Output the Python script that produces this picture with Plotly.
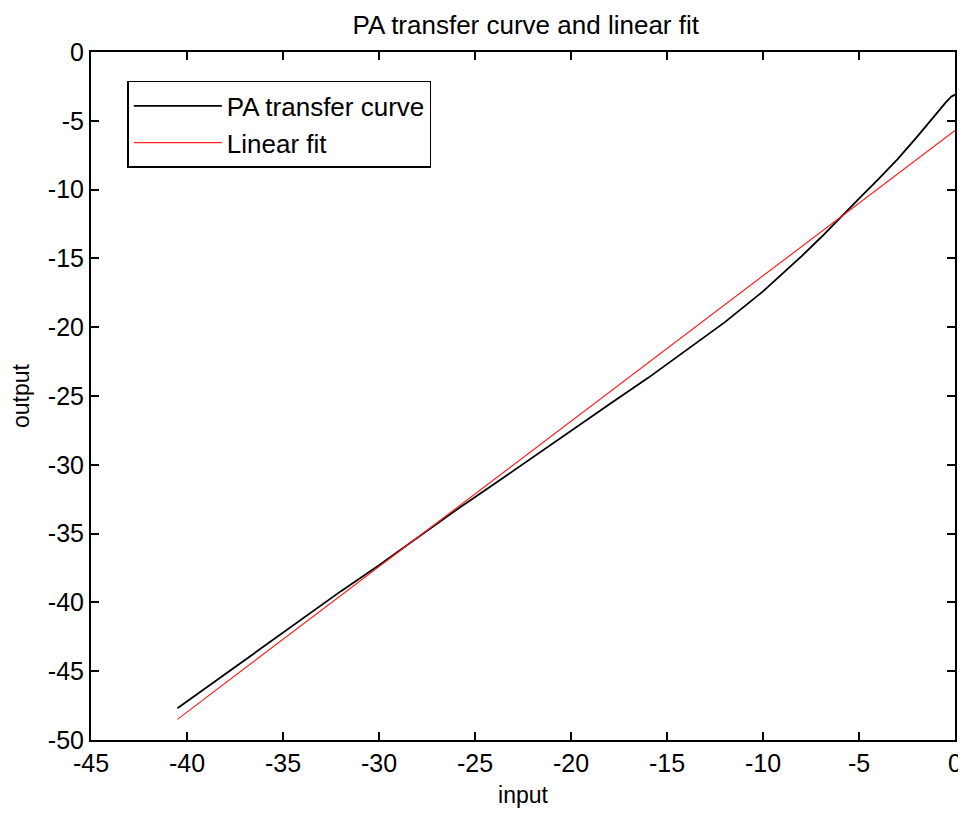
import plotly.graph_objects as go

# === Data ===
pa_input = [-40.5, -38, -36, -34, -32, -30, -28, -26, -24, -22, -20, -18, -16,
            -14, -12, -10, -8, -7, -6, -5, -4, -3, -2, -1, -0.5, -0.2, 0]
pa_output = [-47.7, -45.2, -43.15, -41.2, -39.2, -37.3, -35.3, -33.3, -31.4,
             -29.45, -27.55, -25.6, -23.7, -21.7, -19.65, -17.4, -14.85, -13.5,
             -12.04, -10.65, -9.25, -7.8, -6.2, -4.5, -3.7, -3.25, -3.1]

fit_input = [-40.5, 0]
fit_output = [-48.5, -5.7]

x_ticks = [-45, -40, -35, -30, -25, -20, -15, -10, -5, 0]
x_tick_labels = ["-45", "-40", "-35", "-30", "-25", "-20", "-15", "-10", "-5", "0"]
y_ticks = [0, -5, -10, -15, -20, -25, -30, -35, -40, -45, -50]
y_tick_labels = ["0", "-5", "-10", "-15", "-20", "-25", "-30", "-35", "-40", "-45", "-50"]

font_family = "Liberation Sans, Arial, sans-serif"

fig = go.Figure()
fig.add_trace(go.Scatter(x=pa_input, y=pa_output, mode="lines",
                         name="PA transfer curve",
                         line=dict(color="black", width=1.8)))
fig.add_trace(go.Scatter(x=fit_input, y=fit_output, mode="lines",
                         name="Linear fit",
                         line=dict(color="#ff2020", width=1.2)))

axis_style = dict(
    showgrid=False, zeroline=False, automargin=False,
    showline=True, linecolor="black", linewidth=2, mirror="ticks",
    ticks="inside", ticklen=8, tickwidth=1.5, tickcolor="black",
    tickfont=dict(size=25, color="black", family=font_family),
)

fig.update_xaxes(range=[-45, 0], tickvals=x_ticks, ticktext=x_tick_labels,
                 title=dict(text="input", font=dict(size=23, color="black", family=font_family),
                            standoff=11),
                 **axis_style)
fig.update_yaxes(range=[-50, 0], tickvals=y_ticks, ticktext=y_tick_labels,
                 title=dict(text="output", font=dict(size=23, color="black", family=font_family),
                            standoff=13),
                 **axis_style)

fig.update_layout(
    width=966, height=817,
    margin=dict(l=83, r=19, t=44, b=85),
    plot_bgcolor="white", paper_bgcolor="white",
    title=dict(text="PA transfer curve and linear fit", x=0.536, xanchor="center",
               y=0.979, yanchor="middle",
               font=dict(size=26, color="black", family=font_family)),
    font=dict(family=font_family, color="black"),
    legend=dict(x=0.042, y=0.958, xanchor="left", yanchor="top",
                bgcolor="white", bordercolor="black", borderwidth=1.5,
                font=dict(size=26, color="black", family=font_family),
                itemwidth=88, tracegroupgap=0),
    showlegend=True,
)

fig.write_html("out.html")
